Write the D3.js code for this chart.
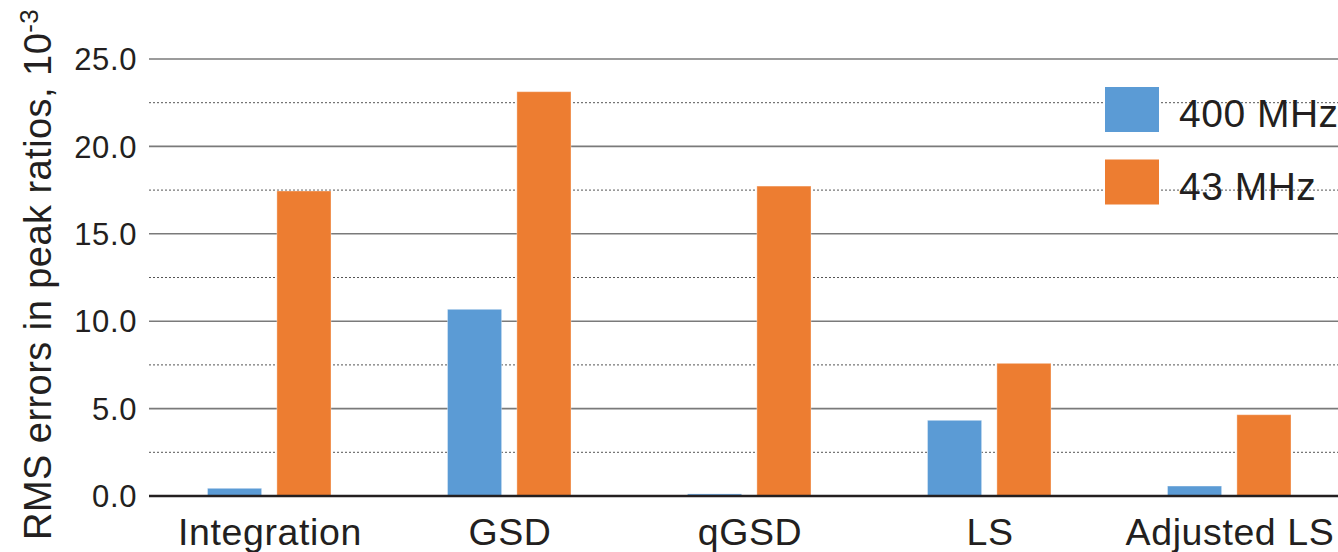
<!DOCTYPE html>
<html>
<head>
<meta charset="utf-8">
<script src="https://cdn.jsdelivr.net/npm/d3@7"></script>
<style>
  html, body { margin: 0; padding: 0; background: #fff; }
  svg { display: block; }
  text { font-family: "Liberation Sans", Arial, Helvetica, sans-serif; fill: #231f20; }
</style>
</head>
<body>
<svg id="chart" width="1338" height="552"></svg>
<script>
const categories = ["Integration", "GSD", "qGSD", "LS", "Adjusted LS"];
const seriesNames = ["400 MHz", "43 MHz"];
const values400 = [0.44, 10.68, 0.12, 4.33, 0.57];
const values43 = [17.45, 23.13, 17.73, 7.59, 4.65];
const yTicks = [0, 5, 10, 15, 20, 25];
const yMinorTicks = [2.5, 7.5, 12.5, 17.5, 22.5];
const colors = ["#5b9bd5", "#ed7d31"];

const svg = d3.select("#chart");
const left = 149, right = 1340;

const x0 = d3.scaleBand().domain(categories).range([150, 1350]).padding(0);
const x1 = d3.scaleBand().domain(seriesNames).range([57.5, 181]).paddingInner(0.22);
const y = d3.scaleLinear().domain([0, 25]).range([496, 59]);

// minor dotted gridlines
svg.append("g").selectAll("line").data(yMinorTicks).join("line")
  .attr("x1", left).attr("x2", right)
  .attr("y1", d => y(d)).attr("y2", d => y(d))
  .attr("stroke", "#555").attr("stroke-width", 1)
  .attr("stroke-dasharray", "2,2");

// major gridlines
svg.append("g").selectAll("line").data(yTicks.filter(d => d > 0)).join("line")
  .attr("x1", left).attr("x2", right)
  .attr("y1", d => y(d)).attr("y2", d => y(d))
  .attr("stroke", "#7a7a7a").attr("stroke-width", 1.6);

// tick labels
svg.append("g").selectAll("text").data(yTicks).join("text")
  .attr("x", 137).attr("y", d => y(d))
  .attr("dy", "0.36em")
  .attr("text-anchor", "end")
  .attr("font-size", 31)
  .attr("letter-spacing", 0.6)
  .text(d => d.toFixed(1));

// bars
const data = categories.map((c, i) => ({ cat: c, vals: [values400[i], values43[i]] }));
const groups = svg.append("g").selectAll("g").data(data).join("g")
  .attr("transform", d => `translate(${x0(d.cat)},0)`);
groups.selectAll("rect").data(d => d.vals.map((v, j) => ({ name: seriesNames[j], v, j }))).join("rect")
  .attr("x", d => x1(d.name))
  .attr("width", x1.bandwidth())
  .attr("y", d => y(d.v))
  .attr("height", d => y(0) - y(d.v))
  .attr("fill", d => colors[d.j])
  .attr("stroke", "rgba(255,255,255,0.35)")
  .attr("stroke-width", 1);

// baseline
svg.append("line")
  .attr("x1", left).attr("x2", right)
  .attr("y1", y(0)).attr("y2", y(0))
  .attr("stroke", "#231f20").attr("stroke-width", 2.6);

// x labels
svg.append("g").selectAll("text").data(categories).join("text")
  .attr("x", d => x0(d) + x0.bandwidth() / 2)
  .attr("y", 545)
  .attr("text-anchor", "middle")
  .attr("font-size", 37.5)
  .attr("letter-spacing", 0.6)
  .text(d => d);

// y axis title
const yt = svg.append("text")
  .attr("transform", "translate(51,540) rotate(-90)")
  .attr("font-size", 38)
  .attr("letter-spacing", 0.45)
  .attr("text-anchor", "start");
yt.append("tspan").text("RMS errors in peak ratios, 10");
yt.append("tspan").attr("dy", "-0.5em").attr("font-size", 26).text("-3");

// legend
const legend = svg.append("g");
seriesNames.forEach((s, i) => {
  const ly = 87 + i * 72.5;
  legend.append("rect")
    .attr("x", 1105).attr("y", ly)
    .attr("width", 54).attr("height", 45)
    .attr("fill", colors[i]);
  legend.append("text")
    .attr("x", 1179).attr("y", ly + 40)
    .attr("font-size", 39)
    .attr("letter-spacing", 0.5)
    .text(s);
});
</script>
</body>
</html>
